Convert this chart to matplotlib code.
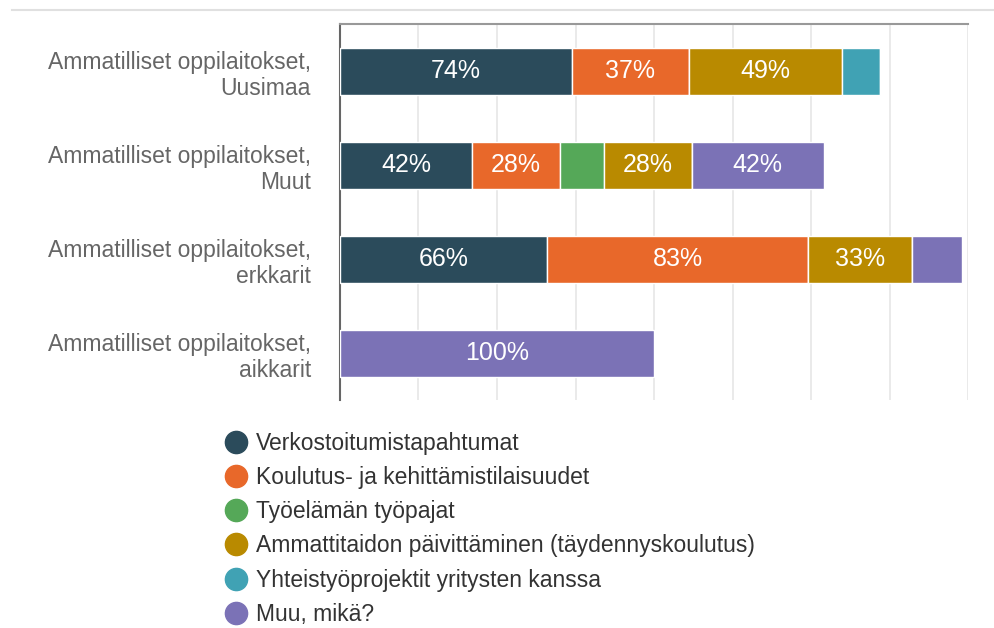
import matplotlib.pyplot as plt
from matplotlib.lines import Line2D
import numpy as np

plt.rcParams['font.family'] = ['Liberation Sans', 'DejaVu Sans']

categories = ["Ammatilliset oppilaitokset,\nUusimaa",
              "Ammatilliset oppilaitokset,\nMuut",
              "Ammatilliset oppilaitokset,\nerkkarit",
              "Ammatilliset oppilaitokset,\naikkarit"]
series = ["Verkostoitumistapahtumat",
          "Koulutus- ja kehittämistilaisuudet",
          "Työelämän työpajat",
          "Ammattitaidon päivittäminen (täydennyskoulutus)",
          "Yhteistyöprojektit yritysten kanssa",
          "Muu, mikä?"]
verkosto = [74, 42, 66, 0]
koulutus = [37, 28, 83, 0]
tyopajat = [0, 14, 0, 0]
ammattitaito = [49, 28, 33, 0]
yhteistyo = [12, 0, 0, 0]
muu = [0, 42, 16, 100]
colors = ['#2b4b5b', '#e8682a', '#55a858', '#b98a00', '#40a2b4', '#7b72b6']

values = [verkosto, koulutus, tyopajat, ammattitaito, yhteistyo, muu]

fig = plt.figure(figsize=(9.95, 6.28), dpi=100)
ax = fig.add_axes([0.3417, 0.363, 0.6312, 0.5985])

y = np.arange(len(categories))
left = np.zeros(len(categories))
for name, vals, col in zip(series, values, colors):
    vals = np.array(vals, dtype=float)
    ax.barh(y, vals, left=left, height=0.5, color=col, edgecolor='white',
            linewidth=1, zorder=3)
    for yi, v, l in zip(y, vals, left):
        if v >= 20:
            ax.text(l + v / 2, yi, f'{v:.0f}%', ha='center', va='center',
                    color='white', fontsize=18, zorder=4)
    left += vals

ax.set_xlim(0, 200)
ax.set_ylim(len(categories) - 0.5, -0.5)
ax.set_xticks(np.arange(0, 201, 25))
ax.set_xticklabels([])
ax.tick_params(axis='both', length=0)
ax.grid(axis='x', color='#e6e6e6', linewidth=1.2, zorder=0)
ax.set_yticks(y)
ax.set_yticklabels(categories, fontsize=16.5, color='#666666',
                   multialignment='right', linespacing=1.2)
ax.tick_params(axis='y', pad=21)
for s in ['right', 'bottom']:
    ax.spines[s].set_visible(False)
ax.spines['left'].set_color('#666666')
ax.spines['left'].set_linewidth(1.5)
ax.spines['top'].set_color('#999999')
ax.spines['top'].set_linewidth(1.5)

fig.add_artist(Line2D([0.012, 1.0], [0.984, 0.984], color='#e0e0e0',
                      linewidth=1.5, transform=fig.transFigure))

handles = [Line2D([], [], marker='o', linestyle='none', markersize=16,
                  markerfacecolor=c, markeredgecolor=c) for c in colors]
fig.legend(handles, series, loc='upper left', bbox_to_anchor=(0.2233, 0.3125),
           frameon=False, fontsize=16.5, labelspacing=0.49, handletextpad=0.28,
           borderpad=0, borderaxespad=0, handlelength=1.2,
           labelcolor='#333333')

fig.savefig('out.png', dpi=100)
